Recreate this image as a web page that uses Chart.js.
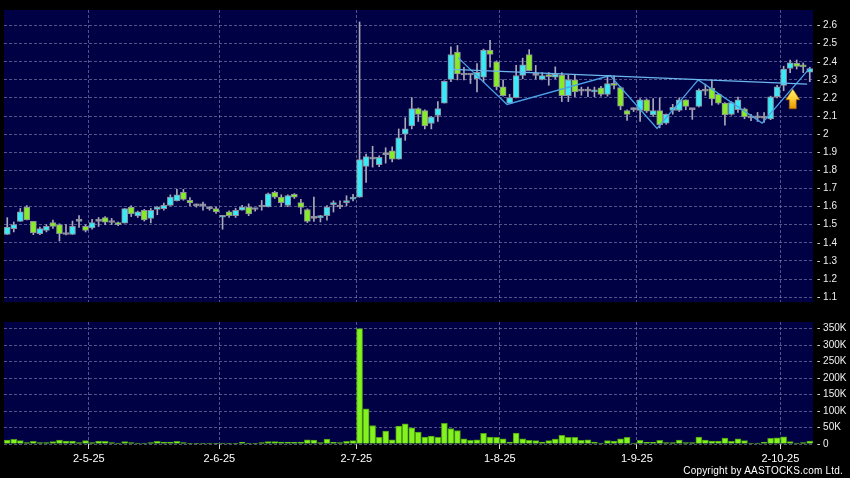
<!DOCTYPE html>
<html>
<head>
<meta charset="utf-8">
<script src="https://cdn.jsdelivr.net/npm/chart.js@4.4.1/dist/chart.umd.min.js"></script>
<style>
  body { margin: 0; background: #000; width: 850px; height: 478px; overflow: hidden; position: relative; }
  #priceChart { position: absolute; left: 0; top: 0; }
  #volumeChart { position: absolute; left: 0; top: 312px; }
  #copyright {
    position: absolute; right: 7px; top: 465px;
    color: #fff; font: 10px "Liberation Sans", Arial, sans-serif; letter-spacing: 0.2px;
  }
</style>
</head>
<body>
<canvas id="priceChart" width="850" height="312"></canvas>
<canvas id="volumeChart" width="850" height="166"></canvas>
<div id="copyright">Copyright by AASTOCKS.com Ltd.</div>
<script>
// daily candles, 10-Apr-25 .. 9-Oct-25
const open = [
  1.447, 1.478, 1.518, 1.598, 1.518, 1.450, 1.469, 1.512, 1.500, 1.446,
  1.446, 1.518, 1.491, 1.482, 1.518, 1.539, 1.512, 1.512, 1.509, 1.598,
  1.548, 1.580, 1.535, 1.584, 1.588, 1.607, 1.631, 1.679, 1.634, 1.604,
  1.604, 1.589, 1.589, 1.541, 1.571, 1.550, 1.580, 1.598, 1.584, 1.598,
  1.598, 1.679, 1.652, 1.607, 1.668, 1.622, 1.584, 1.535, 1.539, 1.550,
  1.611, 1.598, 1.622, 1.641, 1.652, 1.822, 1.862, 1.831, 1.887, 1.908,
  1.862, 2.000, 2.046, 2.141, 2.130, 2.059, 2.104, 2.172, 2.303, 2.453,
  2.327, 2.327, 2.306, 2.315, 2.464, 2.400, 2.261, 2.172, 2.202, 2.324,
  2.440, 2.325, 2.303, 2.327, 2.315, 2.327, 2.213, 2.300, 2.238, 2.238,
  2.234, 2.256, 2.220, 2.279, 2.258, 2.131, 2.136, 2.131, 2.190, 2.106,
  2.131, 2.061, 2.131, 2.131, 2.190, 2.136, 2.154, 2.238, 2.255, 2.220,
  2.172, 2.109, 2.136, 2.140, 2.090, 2.090, 2.088, 2.084, 2.207, 2.270,
  2.363, 2.392, 2.383, 2.342
];
const high = [
  1.539, 1.515, 1.590, 1.605, 1.518, 1.487, 1.500, 1.525, 1.505, 1.500,
  1.520, 1.550, 1.500, 1.530, 1.540, 1.545, 1.535, 1.515, 1.589, 1.605,
  1.575, 1.585, 1.590, 1.600, 1.620, 1.665, 1.695, 1.695, 1.650, 1.615,
  1.625, 1.597, 1.597, 1.552, 1.576, 1.590, 1.607, 1.615, 1.590, 1.634,
  1.675, 1.685, 1.665, 1.665, 1.672, 1.640, 1.588, 1.652, 1.552, 1.605,
  1.632, 1.632, 1.660, 1.668, 2.620, 1.890, 1.933, 1.880, 1.925, 1.930,
  2.029, 2.091, 2.202, 2.145, 2.135, 2.098, 2.180, 2.295, 2.482, 2.490,
  2.370, 2.335, 2.390, 2.470, 2.518, 2.405, 2.300, 2.220, 2.380, 2.420,
  2.467, 2.380, 2.340, 2.340, 2.372, 2.340, 2.325, 2.327, 2.260, 2.260,
  2.260, 2.265, 2.324, 2.322, 2.262, 2.135, 2.145, 2.197, 2.195, 2.197,
  2.200, 2.112, 2.165, 2.200, 2.190, 2.140, 2.250, 2.277, 2.300, 2.225,
  2.175, 2.180, 2.205, 2.145, 2.110, 2.120, 2.120, 2.210, 2.270, 2.375,
  2.410, 2.410, 2.394, 2.370
];
const low = [
  1.446, 1.460, 1.518, 1.526, 1.445, 1.445, 1.460, 1.480, 1.410, 1.444,
  1.446, 1.485, 1.460, 1.475, 1.490, 1.500, 1.500, 1.495, 1.509, 1.545,
  1.540, 1.520, 1.510, 1.555, 1.580, 1.607, 1.631, 1.635, 1.605, 1.597,
  1.580, 1.580, 1.562, 1.475, 1.540, 1.540, 1.580, 1.550, 1.575, 1.580,
  1.598, 1.645, 1.600, 1.600, 1.645, 1.560, 1.512, 1.518, 1.515, 1.525,
  1.570, 1.588, 1.605, 1.632, 1.652, 1.733, 1.818, 1.820, 1.840, 1.847,
  1.862, 1.966, 2.029, 2.070, 2.029, 2.029, 2.070, 2.172, 2.290, 2.300,
  2.300, 2.280, 2.234, 2.288, 2.370, 2.245, 2.210, 2.170, 2.200, 2.306,
  2.350, 2.305, 2.300, 2.270, 2.306, 2.180, 2.180, 2.207, 2.215, 2.207,
  2.207, 2.210, 2.210, 2.250, 2.135, 2.076, 2.125, 2.070, 2.120, 2.098,
  2.035, 2.055, 2.110, 2.125, 2.135, 2.082, 2.150, 2.215, 2.160, 2.165,
  2.050, 2.105, 2.120, 2.085, 2.075, 2.070, 2.065, 2.080, 2.200, 2.240,
  2.340, 2.360, 2.340, 2.290
];
const close = [
  1.487, 1.500, 1.571, 1.526, 1.455, 1.478, 1.491, 1.491, 1.450, 1.446,
  1.491, 1.518, 1.469, 1.512, 1.518, 1.514, 1.512, 1.500, 1.589, 1.559,
  1.571, 1.526, 1.580, 1.598, 1.607, 1.652, 1.665, 1.640, 1.620, 1.604,
  1.604, 1.589, 1.571, 1.550, 1.550, 1.580, 1.598, 1.559, 1.584, 1.598,
  1.670, 1.652, 1.622, 1.661, 1.652, 1.596, 1.518, 1.535, 1.550, 1.598,
  1.622, 1.598, 1.631, 1.652, 1.860, 1.876, 1.862, 1.872, 1.887, 1.862,
  1.980, 2.029, 2.141, 2.109, 2.046, 2.095, 2.141, 2.292, 2.440, 2.333,
  2.327, 2.327, 2.342, 2.464, 2.440, 2.261, 2.213, 2.202, 2.324, 2.383,
  2.351, 2.325, 2.324, 2.318, 2.330, 2.213, 2.300, 2.234, 2.238, 2.238,
  2.242, 2.220, 2.279, 2.270, 2.155, 2.109, 2.136, 2.190, 2.127, 2.131,
  2.052, 2.109, 2.148, 2.190, 2.154, 2.136, 2.244, 2.238, 2.195, 2.172,
  2.107, 2.175, 2.190, 2.095, 2.090, 2.090, 2.088, 2.206, 2.261, 2.360,
  2.394, 2.375, 2.372, 2.363
];
// shares, thousands
const volume = [
  12, 14, 10, 4, 8, 4, 4, 7, 12, 9,
  9, 4, 10, 4, 9, 8, 4, 3, 7, 4,
  3, 3, 4, 8, 6, 6, 8, 4, 1, 1,
  3, 3, 2, 3, 1, 2, 5, 2, 1, 4,
  7, 7, 6, 6, 5, 6, 13, 12, 4, 15,
  5, 4, 8, 10, 350, 107, 56, 20, 39, 13,
  54, 61, 49, 36, 21, 24, 20, 63, 47, 41,
  16, 11, 13, 32, 21, 20, 16, 6, 33, 16,
  11, 10, 6, 10, 15, 26, 20, 20, 11, 13,
  6, 3, 10, 9, 16, 20, 3, 11, 5, 5,
  11, 4, 4, 12, 4, 4, 21, 12, 9, 9,
  18, 8, 16, 10, 3, 3, 6, 17, 19, 22,
  7, 3, 4, 9
];
const monthLabels = ["2-5-25", "2-6-25", "2-7-25", "1-8-25", "1-9-25", "2-10-25"];
const monthStartIdx = [13, 33, 54, 76, 97, 119];
const priceTicks = [1.1, 1.2, 1.3, 1.4, 1.5, 1.6, 1.7, 1.8, 1.9, 2.0, 2.1, 2.2, 2.3, 2.4, 2.5, 2.6];
const volumeTicks = [0, 50, 100, 150, 200, 250, 300, 350];

// drawn pattern: zigzag + neckline, and the breakout arrow
const zigzag = [
  { x: 69.1, y: 2.423 }, { x: 76.6, y: 2.164 }, { x: 92.4, y: 2.324 },
  { x: 99.6, y: 2.032 }, { x: 105.9, y: 2.300 }, { x: 115.7, y: 2.061 },
  { x: 123.0, y: 2.365 }
];
const neckline = [{ x: 68.3, y: 2.358 }, { x: 122.6, y: 2.277 }];
const arrowMark = { x: 120.4, tip: 2.25, head: 2.19, base: 2.14 };

const FONT = '"Liberation Sans", Arial, sans-serif';
const GRID = "rgba(140,140,190,0.6)";
const UP = "#3ae8f6", DOWN = "#86ec26", FLAT = "#a4a4b0";

Chart.defaults.font.family = FONT;

const plotBg = {
  id: "plotBg",
  beforeDraw(chart) {
    const { ctx, chartArea: a } = chart;
    ctx.save();
    ctx.fillStyle = "#000044";
    ctx.fillRect(a.left, a.top, a.right - a.left, a.bottom - a.top);
    ctx.restore();
  },
};

const arrowPlugin = {
  id: "arrow",
  afterDatasetsDraw(chart) {
    const { ctx, scales } = chart;
    const xc = scales.x.getPixelForValue(arrowMark.x);
    const yTip = scales.y.getPixelForValue(arrowMark.tip);
    const yHead = scales.y.getPixelForValue(arrowMark.head);
    const yBase = scales.y.getPixelForValue(arrowMark.base);
    const g = ctx.createLinearGradient(0, yTip, 0, yBase);
    g.addColorStop(0, "#fff27a");
    g.addColorStop(0.5, "#ffcc33");
    g.addColorStop(1, "#e89400");
    ctx.save();
    ctx.beginPath();
    ctx.moveTo(xc, yTip);
    ctx.lineTo(xc + 7, yHead);
    ctx.lineTo(xc + 3.5, yHead);
    ctx.lineTo(xc + 3.5, yBase);
    ctx.lineTo(xc - 3.5, yBase);
    ctx.lineTo(xc - 3.5, yHead);
    ctx.lineTo(xc - 7, yHead);
    ctx.closePath();
    ctx.fillStyle = g;
    ctx.fill();
    ctx.strokeStyle = "#9a6a00";
    ctx.lineWidth = 0.6;
    ctx.stroke();
    ctx.restore();
  },
};

function xAxis(showLabels) {
  return {
    type: "linear",
    offset: false,
    min: -0.5,
    max: open.length - 0.5,
    afterBuildTicks: (s) => { s.ticks = monthStartIdx.map((i) => ({ value: i - 0.5 })); },
    afterFit: (s) => { s.height = showLabels ? 20 : 0; },
    grid: { offset: false, color: GRID, drawTicks: showLabels, tickLength: 5, tickColor: "#d8d8d8" },
    border: { display: false, dash: [3, 2] },
    ticks: {
      display: showLabels,
      color: "#ffffff",
      font: { size: 11 },
      padding: 3,
      maxRotation: 0,
      autoSkip: false,
      callback: (v, i) => monthLabels[i],
    },
  };
}

function yAxis(min, max, tickValues, fmt) {
  return {
    position: "right",
    min: min,
    max: max,
    afterBuildTicks: (s) => { s.ticks = tickValues.map((v) => ({ value: v })); },
    afterFit: (s) => { s.width = 37; },
    grid: { color: GRID, drawTicks: false },
    border: { display: false, dash: [3, 2] },
    ticks: { color: "#f0f0f0", font: { size: 10 }, padding: 4, callback: fmt },
  };
}

const days = open.map((_, i) => i);
const candleColor = days.map((i) =>
  close[i] > open[i] ? UP : close[i] < open[i] ? DOWN : FLAT);

new Chart(document.getElementById("priceChart"), {
  type: "bar",
  data: {
    datasets: [
      {
        type: "line",
        data: neckline,
        borderColor: "#6cb8ee",
        borderWidth: 1.3,
        pointRadius: 0,
        order: -2,
      },
      {
        type: "line",
        data: zigzag,
        borderColor: "#4aa2e6",
        borderWidth: 1.3,
        pointRadius: 0,
        order: -1,
      },
      {
        data: days.map((i) => ({ x: i, y: [Math.min(open[i], close[i]), Math.max(open[i], close[i])] })),
        backgroundColor: candleColor,
        borderColor: "#8e8e9c",
        borderWidth: 1,
        borderSkipped: false,
        barThickness: 6,
        minBarLength: 2,
        grouped: false,
        order: 0,
      },
      {
        data: days.map((i) => ({ x: i, y: [low[i], high[i]] })),
        backgroundColor: "#a8a8b8",
        barThickness: 1,
        grouped: false,
        order: 1,
      },
    ],
  },
  options: {
    responsive: false,
    animation: false,
    events: [],
    layout: { padding: { top: 6, left: 4, bottom: 6, right: 0 } },
    plugins: { legend: { display: false }, tooltip: { enabled: false } },
    scales: {
      x: xAxis(false),
      y: yAxis(1.073, 2.686, priceTicks, (v) => "- " + Number(v.toFixed(1))),
    },
  },
  plugins: [plotBg, arrowPlugin],
});

new Chart(document.getElementById("volumeChart"), {
  type: "bar",
  data: {
    datasets: [
      {
        data: days.map((i) => ({ x: i, y: volume[i] })),
        backgroundColor: "#84f21e",
        borderColor: "#4a9e12",
        borderWidth: 1,
        barThickness: 6,
      },
    ],
  },
  options: {
    responsive: false,
    animation: false,
    events: [],
    layout: { padding: { top: 7, left: 4, bottom: 14, right: 0 } },
    plugins: { legend: { display: false }, tooltip: { enabled: false } },
    scales: {
      x: xAxis(true),
      y: yAxis(0, 370, volumeTicks, (v) => "- " + (v ? v + "K" : "0")),
    },
  },
  plugins: [plotBg],
});
</script>
</body>
</html>
